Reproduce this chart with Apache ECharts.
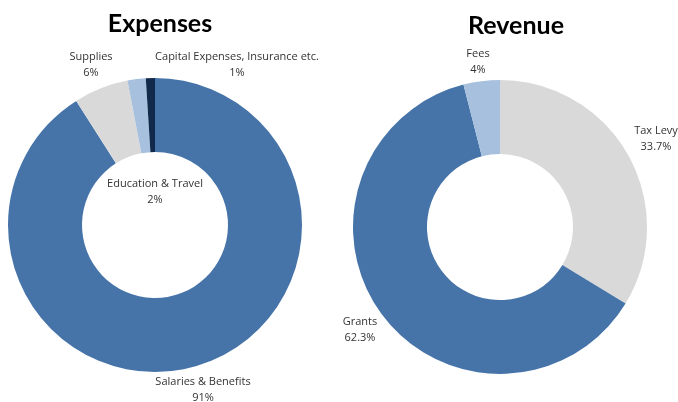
<!DOCTYPE html>
<html lang="en">
<head>
    <meta charset="UTF-8">
    <title>Expenses / Revenue</title>
    <style>
        html, body { margin: 0; padding: 0; background: #fff; }
        #main { width: 678px; height: 402px; }
    </style>
</head>
<body>
    <div id="main"></div>
    <script src="https://cdn.jsdelivr.net/npm/echarts@6/dist/echarts.min.js"></script>
    <script>
        // expenses, clockwise from 12 o'clock
        var expenseNames = ['Salaries & Benefits', 'Supplies', 'Education & Travel', 'Capital Expenses, Insurance etc.'];
        var expenseValues = [91, 6, 2, 1];
        var expenseColors = ['#4674a9', '#d9d9d9', '#a6c0de', '#11294a'];

        // revenue, clockwise from 12 o'clock
        var revenueNames = ['Tax Levy', 'Grants', 'Fees'];
        var revenueValues = [33.7, 62.3, 4];
        var revenueColors = ['#d9d9d9', '#4674a9', '#a6c0de'];

        // where the labels sit (text centre), by slice index
        var expenseLabelPos = [[203, 390], [91, 65], [155, 192], [237, 65]];
        var revenueLabelPos = [[656, 139], [360, 330], [478, 62]];

        var myChart = echarts.init(document.getElementById('main'));

        function toData(names, values, colors) {
            return names.map(function (n, i) {
                return { name: n, value: values[i], itemStyle: { color: colors[i] } };
            });
        }

        function pieSeries(center, data, labelPos) {
            return {
                type: 'pie',
                center: center,
                radius: [73, 147],
                startAngle: 90,
                clockwise: true,
                avoidLabelOverlap: false,
                data: data,
                label: {
                    show: true,
                    formatter: '{b}\n{c}%',
                    fontFamily: 'Open Sans',
                    fontSize: 11,
                    lineHeight: 16,
                    color: '#333',
                    align: 'center'
                },
                labelLine: { show: false },
                labelLayout: function (params) {
                    var p = labelPos[params.dataIndex];
                    return { x: p[0], y: p[1], align: 'center', verticalAlign: 'middle' };
                },
                emphasis: { disabled: true }
            };
        }

        var option = {
            animation: false,
            title: [
                {
                    text: 'Expenses', left: 155, top: 6, textAlign: 'center',
                    textStyle: { fontFamily: 'Lato', fontWeight: 'bold', fontSize: 25, color: '#000' }
                },
                {
                    text: 'Revenue', left: 511, top: 8, textAlign: 'center',
                    textStyle: { fontFamily: 'Lato', fontWeight: 'bold', fontSize: 25, color: '#000' }
                }
            ],
            series: [
                pieSeries([155, 225], toData(expenseNames, expenseValues, expenseColors), expenseLabelPos),
                pieSeries([500, 227], toData(revenueNames, revenueValues, revenueColors), revenueLabelPos)
            ]
        };
        myChart.setOption(option);
    </script>
</body>
</html>
